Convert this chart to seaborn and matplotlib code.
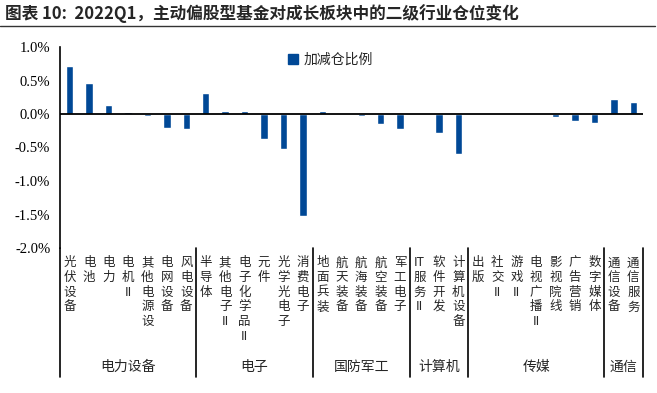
import re
import numpy as np
import pandas as pd
import matplotlib
matplotlib.use("Agg")
import matplotlib.pyplot as plt
import matplotlib.transforms as mtransforms
from matplotlib.lines import Line2D
from matplotlib.patches import Patch
import seaborn as sns

# ========== data ==========
groups = ["电力设备", "电子", "国防军工", "计算机", "传媒", "通信"]
group_sizes = [7, 6, 5, 3, 7, 2]
industries = ["光伏设备", "电池", "电力", "电机II", "其他电源设", "电网设备", "风电设备",
              "半导体", "其他电子II", "电子化学品II", "元件", "光学光电子", "消费电子",
              "地面兵装", "航天装备", "航海装备", "航空装备", "军工电子",
              "IT服务II", "软件开发", "计算机设备",
              "出版", "社交II", "游戏II", "电视广播II", "影视院线", "广告营销", "数字媒体",
              "通信设备", "通信服务"]
change = [0.72, 0.46, 0.13, 0.025, -0.03, -0.205, -0.225,
          0.31, 0.045, 0.045, -0.38, -0.525, -1.525,
          0.04, 0.0, -0.03, -0.145, -0.22,
          0.01, -0.28, -0.595,
          0.0, 0.0, 0.0, 0.0, -0.05, -0.10, -0.135,
          0.225, 0.175]
yticks = [1.0, 0.5, 0.0, -0.5, -1.0, -1.5, -2.0]

title = "图表 10:  2022Q1，主动偏股型基金对成长板块中的二级行业仓位变化"
legend_label = "加减仓比例"
bar_color = "#004896"

sns.set_style("white")
plt.rcParams['font.family'] = ['Noto Sans CJK SC', 'DejaVu Sans']

df = pd.DataFrame({"industry": industries, "change": change})


def stack(s):
    # 竖排文字：每个汉字一行，连续字母保持在一起
    return "\n".join(re.findall(r'[A-Za-z]+|.', s))


fig = plt.figure(figsize=(6.57, 3.93), dpi=100)
ax = fig.add_axes([60 / 657, 1 - 248 / 393, 583 / 657, 201 / 393])

sns.barplot(data=df, x="industry", y="change", color=bar_color, saturation=1,
            width=0.38, ax=ax)

ax.set_xlim(-0.5, len(industries) - 0.5)
ax.set_ylim(-2.0, 1.0)
ax.set_yticks(yticks)
ax.set_yticklabels([f"{v:.1f}%" for v in yticks], fontfamily="Liberation Serif", fontsize=10.5)
ax.set_xticks(range(len(industries)))
ax.set_xticklabels([stack(s) for s in industries], fontsize=9, linespacing=1.17, va="top")
ax.tick_params(axis="x", length=0, pad=6)
ax.tick_params(axis="y", length=4, width=1, direction="out", pad=3, colors="black")
ax.set_xlabel(""); ax.set_ylabel("")

for side in ["top", "right", "bottom"]:
    ax.spines[side].set_visible(False)
ax.spines["left"].set_color("black")
ax.spines["left"].set_linewidth(1.2)
ax.axhline(0, color="black", lw=1.3, zorder=3)

# 分组分隔线和分组名称
trans = mtransforms.blended_transform_factory(ax.transData, ax.transAxes)
bounds = np.concatenate([[0], np.cumsum(group_sizes)]) - 0.5
for b in bounds:
    ax.plot([b, b], [0, -0.642], transform=trans, color="black", lw=1.2, clip_on=False)
for g, lo, hi in zip(groups, bounds[:-1], bounds[1:]):
    ax.text((lo + hi) / 2, -0.592, g, transform=trans, ha="center", va="center", fontsize=10)

ax.legend(handles=[Patch(color=bar_color, label=legend_label)], loc="center left",
          bbox_to_anchor=(0.37, 0.935), frameon=False, fontsize=10,
          handlelength=0.7, handleheight=0.7, handletextpad=0.4)

fig.text(5 / 657, 1 - 14 / 393, title, fontsize=12, fontweight="bold", va="center", ha="left")
fig.add_artist(Line2D([0, 0.997], [1 - 26 / 393] * 2, color="#333333", lw=1))

fig.savefig("out.png", dpi=100)
plt.close()
